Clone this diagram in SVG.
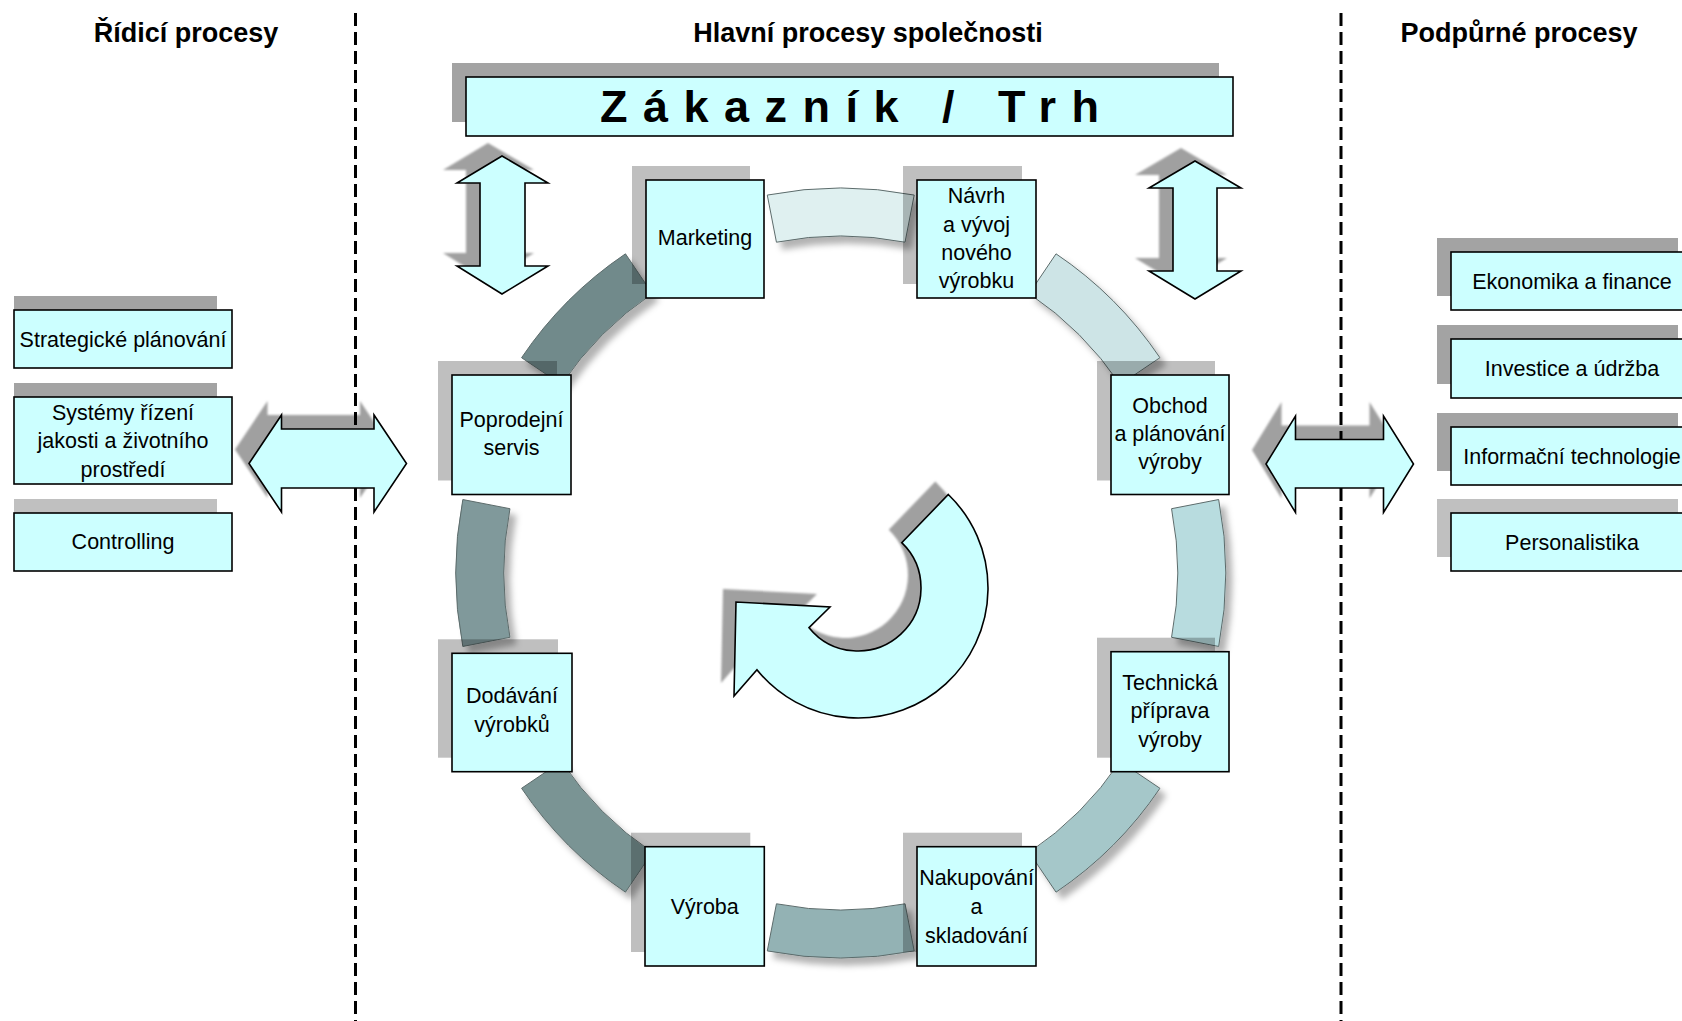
<svg xmlns="http://www.w3.org/2000/svg" width="1682" height="1021" viewBox="0 0 1682 1021">
<defs>
<style>
.box{fill:#ccffff;stroke:#000;stroke-width:1.6}
.sh{fill:#a3a3a3}
.shl{fill:#c0c0c0}
.shp{fill:#000;fill-opacity:0.25}
.t{font-family:"Liberation Sans",Arial,sans-serif;font-size:21.5px;fill:#000;text-anchor:middle}
.h{font-family:"Liberation Sans",Arial,sans-serif;font-size:27px;font-weight:bold;fill:#000;text-anchor:middle}
.arr{fill:#ccffff;stroke:#000;stroke-width:1.6;stroke-linejoin:miter}
.ash{fill:#a0a0a0;filter:url(#soft)}
.seg{stroke:#5c6b6b;stroke-width:1;filter:url(#segShadow)}
.sep{stroke:#000;stroke-width:3;stroke-dasharray:13 6;fill:none}
</style>
<filter id="soft" x="-10%" y="-10%" width="120%" height="120%">
<feGaussianBlur stdDeviation="1"/>
</filter>
<filter id="segShadow" x="-20%" y="-20%" width="150%" height="150%">
<feGaussianBlur in="SourceAlpha" stdDeviation="3"/>
<feOffset dx="6" dy="7" result="b"/>
<feFlood flood-color="#000" flood-opacity="0.3"/>
<feComposite in2="b" operator="in"/>
<feMerge><feMergeNode/><feMergeNode in="SourceGraphic"/></feMerge>
</filter>
</defs>
<rect width="1682" height="1021" fill="#fff"/>

<!-- column headings -->
<g id="headings">
<text class="h" x="186" y="42">Řídicí procesy</text>
<text class="h" x="868" y="42">Hlavní procesy společnosti</text>
<text class="h" x="1519" y="42">Podpůrné procesy</text>
</g>

<g id="connectors">
<!-- ring segments between the main processes -->
<g id="ring">
<path class="seg" fill="#dff0f0" d="M767.29,195.07 A385,385 0 0 1 914.21,195.07 L905.05,242.19 A337,337 0 0 0 776.45,242.19 Z"/>
<path class="seg" fill="#cde4e6" d="M1056.04,253.82 A385,385 0 0 1 1159.93,357.71 L1120.14,384.55 A337,337 0 0 0 1029.20,293.61 Z"/>
<path class="seg" fill="#b8dcdf" d="M1218.68,499.54 A385,385 0 0 1 1218.68,646.46 L1171.56,637.30 A337,337 0 0 0 1171.56,508.70 Z"/>
<path class="seg" fill="#a5c7c9" d="M1159.93,788.29 A385,385 0 0 1 1056.04,892.18 L1029.20,852.39 A337,337 0 0 0 1120.14,761.45 Z"/>
<path class="seg" fill="#93b2b4" d="M914.21,950.93 A385,385 0 0 1 767.29,950.93 L776.45,903.81 A337,337 0 0 0 905.05,903.81 Z"/>
<path class="seg" fill="#7a9494" d="M625.46,892.18 A385,385 0 0 1 521.57,788.29 L561.36,761.45 A337,337 0 0 0 652.30,852.39 Z"/>
<path class="seg" fill="#80999b" d="M462.82,646.46 A385,385 0 0 1 462.82,499.54 L509.94,508.70 A337,337 0 0 0 509.94,637.30 Z"/>
<path class="seg" fill="#718a8b" d="M521.57,357.71 A385,385 0 0 1 625.46,253.82 L652.30,293.61 A337,337 0 0 0 561.36,384.55 Z"/>
</g>

<!-- arrow shadows -->
<g id="arrow-shadows">
<polygon class="ash" transform="translate(-14,-13)" points="502,156 548,183 525,183 525,266 548,266 502,294 457,266 480,266 480,183 457,183"/>
<polygon class="ash" transform="translate(-14,-13)" points="1195,161 1241,188 1217,188 1217,271 1241,271 1195,299 1149,271 1173,271 1173,188 1149,188"/>
<polygon class="ash" transform="translate(-14,-14)" points="249,463.5 281.5,415 281.5,429 374,429 374,415 406.5,463.5 374,512 374,488 281.5,488 281.5,512"/>
<polygon class="ash" transform="translate(-14,-14)" points="1266,464 1295.5,416 1295.5,439.5 1383.5,439.5 1383.5,416 1413.5,464 1383.5,512.5 1383.5,488 1295.5,488 1295.5,512.5"/>
<path class="ash" transform="translate(-13,-13)" d="M948.31,494.49 A130,130 0 1 1 756.97,669.81 L734,696 L736,602 L830,607 L809.04,627.65 A63,63 0 1 0 901.76,542.68 Z"/>
</g>

<!-- column separators -->
<line class="sep" x1="355.5" y1="13" x2="355.5" y2="1021"/>
<line class="sep" x1="1341" y1="13" x2="1341" y2="1021"/>

<!-- double arrows and the cycle arrow -->
<polygon id="arrow-customer-left" class="arr" points="502,156 548,183 525,183 525,266 548,266 502,294 457,266 480,266 480,183 457,183"/>
<polygon id="arrow-customer-right" class="arr" points="1195,161 1241,188 1217,188 1217,271 1241,271 1195,299 1149,271 1173,271 1173,188 1149,188"/>
<polygon id="arrow-management" class="arr" points="249,463.5 281.5,415 281.5,429 374,429 374,415 406.5,463.5 374,512 374,488 281.5,488 281.5,512"/>
<polygon id="arrow-support" class="arr" points="1266,464 1295.5,416 1295.5,439.5 1383.5,439.5 1383.5,416 1413.5,464 1383.5,512.5 1383.5,488 1295.5,488 1295.5,512.5"/>
<path id="cycle-arrow" class="arr" d="M948.31,494.49 A130,130 0 1 1 756.97,669.81 L734,696 L736,602 L830,607 L809.04,627.65 A63,63 0 1 0 901.76,542.68 Z"/>
</g>

<!-- customer / market -->
<g id="zakaznik">
<rect class="sh" x="452" y="63" width="767" height="59"/>
<rect class="box" x="466" y="77" width="767" height="59"/>
<text x="600" y="122" style="font-family:'Liberation Sans',Arial,sans-serif;font-size:45px;font-weight:bold;letter-spacing:15.5px">Zákazník / Trh</text>
</g>

<!-- management processes -->
<g id="strategicke-planovani">
<rect class="sh" x="14" y="296" width="203" height="58"/>
<rect class="box" x="14" y="310" width="218" height="58"/>
<text class="t" x="123" y="346.7">Strategické plánování</text>
</g>
<g id="systemy-rizeni">
<rect class="sh" x="14" y="383" width="203" height="87"/>
<rect class="box" x="14" y="397" width="218" height="87"/>
<text class="t" x="123" y="420">Systémy řízení</text>
<text class="t" x="123" y="448.3">jakosti a životního</text>
<text class="t" x="123" y="476.7">prostředí</text>
</g>
<g id="controlling">
<rect class="shl" x="14" y="499" width="203" height="58"/>
<rect class="box" x="14" y="513" width="218" height="58"/>
<text class="t" x="123" y="549">Controlling</text>
</g>

<!-- support processes -->
<g id="ekonomika">
<rect class="sh" x="1437" y="238" width="241" height="58"/>
<rect class="box" x="1451" y="252" width="241" height="58"/>
<text class="t" x="1572" y="288.5">Ekonomika a finance</text>
</g>
<g id="investice">
<rect class="sh" x="1437" y="325" width="241" height="59"/>
<rect class="box" x="1451" y="339" width="241" height="59"/>
<text class="t" x="1572" y="376">Investice a údržba</text>
</g>
<g id="informacni-technologie">
<rect class="sh" x="1437" y="413" width="241" height="58"/>
<rect class="box" x="1451" y="427" width="241" height="58"/>
<text class="t" x="1572" y="463.5">Informační technologie</text>
</g>
<g id="personalistika">
<rect class="shl" x="1437" y="499" width="241" height="58"/>
<rect class="box" x="1451" y="513" width="241" height="58"/>
<text class="t" x="1572" y="550">Personalistika</text>
</g>

<!-- main processes -->
<g id="marketing">
<rect class="shp" x="632" y="166" width="118" height="118"/>
<rect class="box" x="646" y="180" width="118" height="118"/>
<text class="t" x="705" y="245">Marketing</text>
</g>
<g id="navrh">
<rect class="shp" x="903" y="166" width="119" height="118"/>
<rect class="box" x="917" y="180" width="119" height="118"/>
<text class="t" x="976.5" y="203.3">Návrh</text>
<text class="t" x="976.5" y="231.7">a vývoj</text>
<text class="t" x="976.5" y="260">nového</text>
<text class="t" x="976.5" y="288.3">výrobku</text>
</g>
<g id="obchod">
<rect class="shp" x="1097" y="361" width="118" height="119.5"/>
<rect class="box" x="1111" y="375" width="118" height="119.5"/>
<text class="t" x="1170" y="412.7">Obchod</text>
<text class="t" x="1170" y="441">a plánování</text>
<text class="t" x="1170" y="469.3">výroby</text>
</g>
<g id="technicka-priprava">
<rect class="shp" x="1097" y="637.7" width="118" height="120"/>
<rect class="box" x="1111" y="651.7" width="118" height="120"/>
<text class="t" x="1170" y="690">Technická</text>
<text class="t" x="1170" y="718.3">příprava</text>
<text class="t" x="1170" y="746.7">výroby</text>
</g>
<g id="nakupovani">
<rect class="shp" x="903" y="832.7" width="119" height="119.3"/>
<rect class="box" x="917" y="846.7" width="119" height="119.3"/>
<text class="t" x="976.5" y="885">Nakupování</text>
<text class="t" x="976.5" y="914">a</text>
<text class="t" x="976.5" y="942.7">skladování</text>
</g>
<g id="vyroba">
<rect class="shp" x="631" y="832.7" width="119.3" height="119.3"/>
<rect class="box" x="645" y="846.7" width="119.3" height="119.3"/>
<text class="t" x="704.7" y="914">Výroba</text>
</g>
<g id="dodavani">
<rect class="shp" x="438" y="639.3" width="120" height="118.4"/>
<rect class="box" x="452" y="653.3" width="120" height="118.4"/>
<text class="t" x="512" y="703.3">Dodávání</text>
<text class="t" x="512" y="731.7">výrobků</text>
</g>
<g id="poprodejni-servis">
<rect class="shp" x="438" y="361" width="119" height="119.5"/>
<rect class="box" x="452" y="375" width="119" height="119.5"/>
<text class="t" x="511.5" y="426.7">Poprodejní</text>
<text class="t" x="511.5" y="455">servis</text>
</g>
</svg>
